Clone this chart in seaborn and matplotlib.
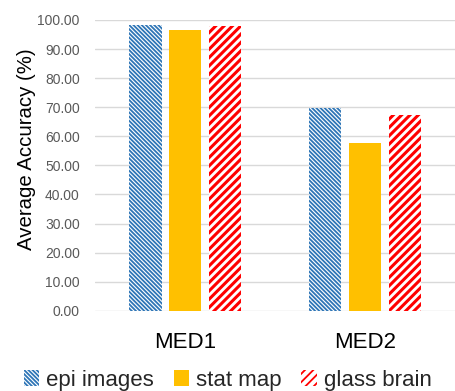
import matplotlib
matplotlib.use("Agg")
import matplotlib.pyplot as plt
import pandas as pd
import seaborn as sns
from matplotlib.patches import Patch

# values
datasets = ["MED1", "MED2"]
epi_images = [98.3, 69.8]
stat_map = [96.6, 57.8]
glass_brain = [98.0, 67.4]
series_names = ["epi images", "stat map", "glass brain"]

df = pd.DataFrame({
    "dataset": datasets * 3,
    "accuracy": epi_images + stat_map + glass_brain,
    "method": [n for n in series_names for _ in datasets],
})

sns.set_theme(style="white")
plt.rcParams["font.family"] = ["Liberation Sans", "DejaVu Sans"]
plt.rcParams["hatch.linewidth"] = 1.3

colors = {"epi images": "#2E75B6", "stat map": "#FFC000", "glass brain": "#FF0000"}
hatches = {"epi images": "\\" * 8, "stat map": "", "glass brain": "/" * 4}
hatch_lw = {"epi images": 1.3, "stat map": 1.0, "glass brain": 2.2}


def style_patch(patch, name):
    patch.set_linewidth(0)
    if hatches[name]:
        patch.set_facecolor("white")
        patch.set_edgecolor(colors[name])
        patch.set_hatch(hatches[name])
        if hasattr(patch, "set_hatch_linewidth"):
            patch.set_hatch_linewidth(hatch_lw[name])


fig = plt.figure(figsize=(4.55, 3.91), dpi=100)
ax = fig.add_axes([0.209, 0.205, 0.791, 0.744])

sns.barplot(data=df, x="dataset", y="accuracy", hue="method", hue_order=series_names,
            palette=colors, saturation=1, width=0.66, gap=0.19, ax=ax, legend=False)

# seaborn draws bars hue-by-hue
for i, patch in enumerate(ax.patches[:len(series_names) * len(datasets)]):
    style_patch(patch, series_names[i // len(datasets)])

ax.set_ylim(0, 100)
ax.set_xlim(-0.5, 1.5)
ax.set_yticks(range(0, 101, 10))
ax.set_yticklabels([f"{v:.2f}" for v in range(0, 101, 10)], fontsize=10, color="#595959")
ax.tick_params(axis="x", labelsize=16, colors="#000000", length=0, pad=15)
ax.tick_params(axis="y", length=0, pad=11)
ax.yaxis.grid(True, color="#D9D9D9", linewidth=1)
ax.set_axisbelow(True)
for s in ax.spines.values():
    s.set_visible(False)
ax.set_xlabel("")
ax.set_ylabel("Average Accuracy (%)", fontsize=14.7, color="#000000")
ax.yaxis.set_label_coords(-0.165, 0.557)

handles = []
for n in series_names:
    h = Patch(facecolor=colors[n], label=n)
    style_patch(h, n)
    handles.append(h)
fig.legend(handles=handles, loc="lower center", bbox_to_anchor=(0.5, -0.05), ncol=3,
           frameon=False, fontsize=16, handlelength=0.7, handleheight=0.7,
           handletextpad=0.3, columnspacing=0.9)

fig.savefig("out.png", dpi=100)
